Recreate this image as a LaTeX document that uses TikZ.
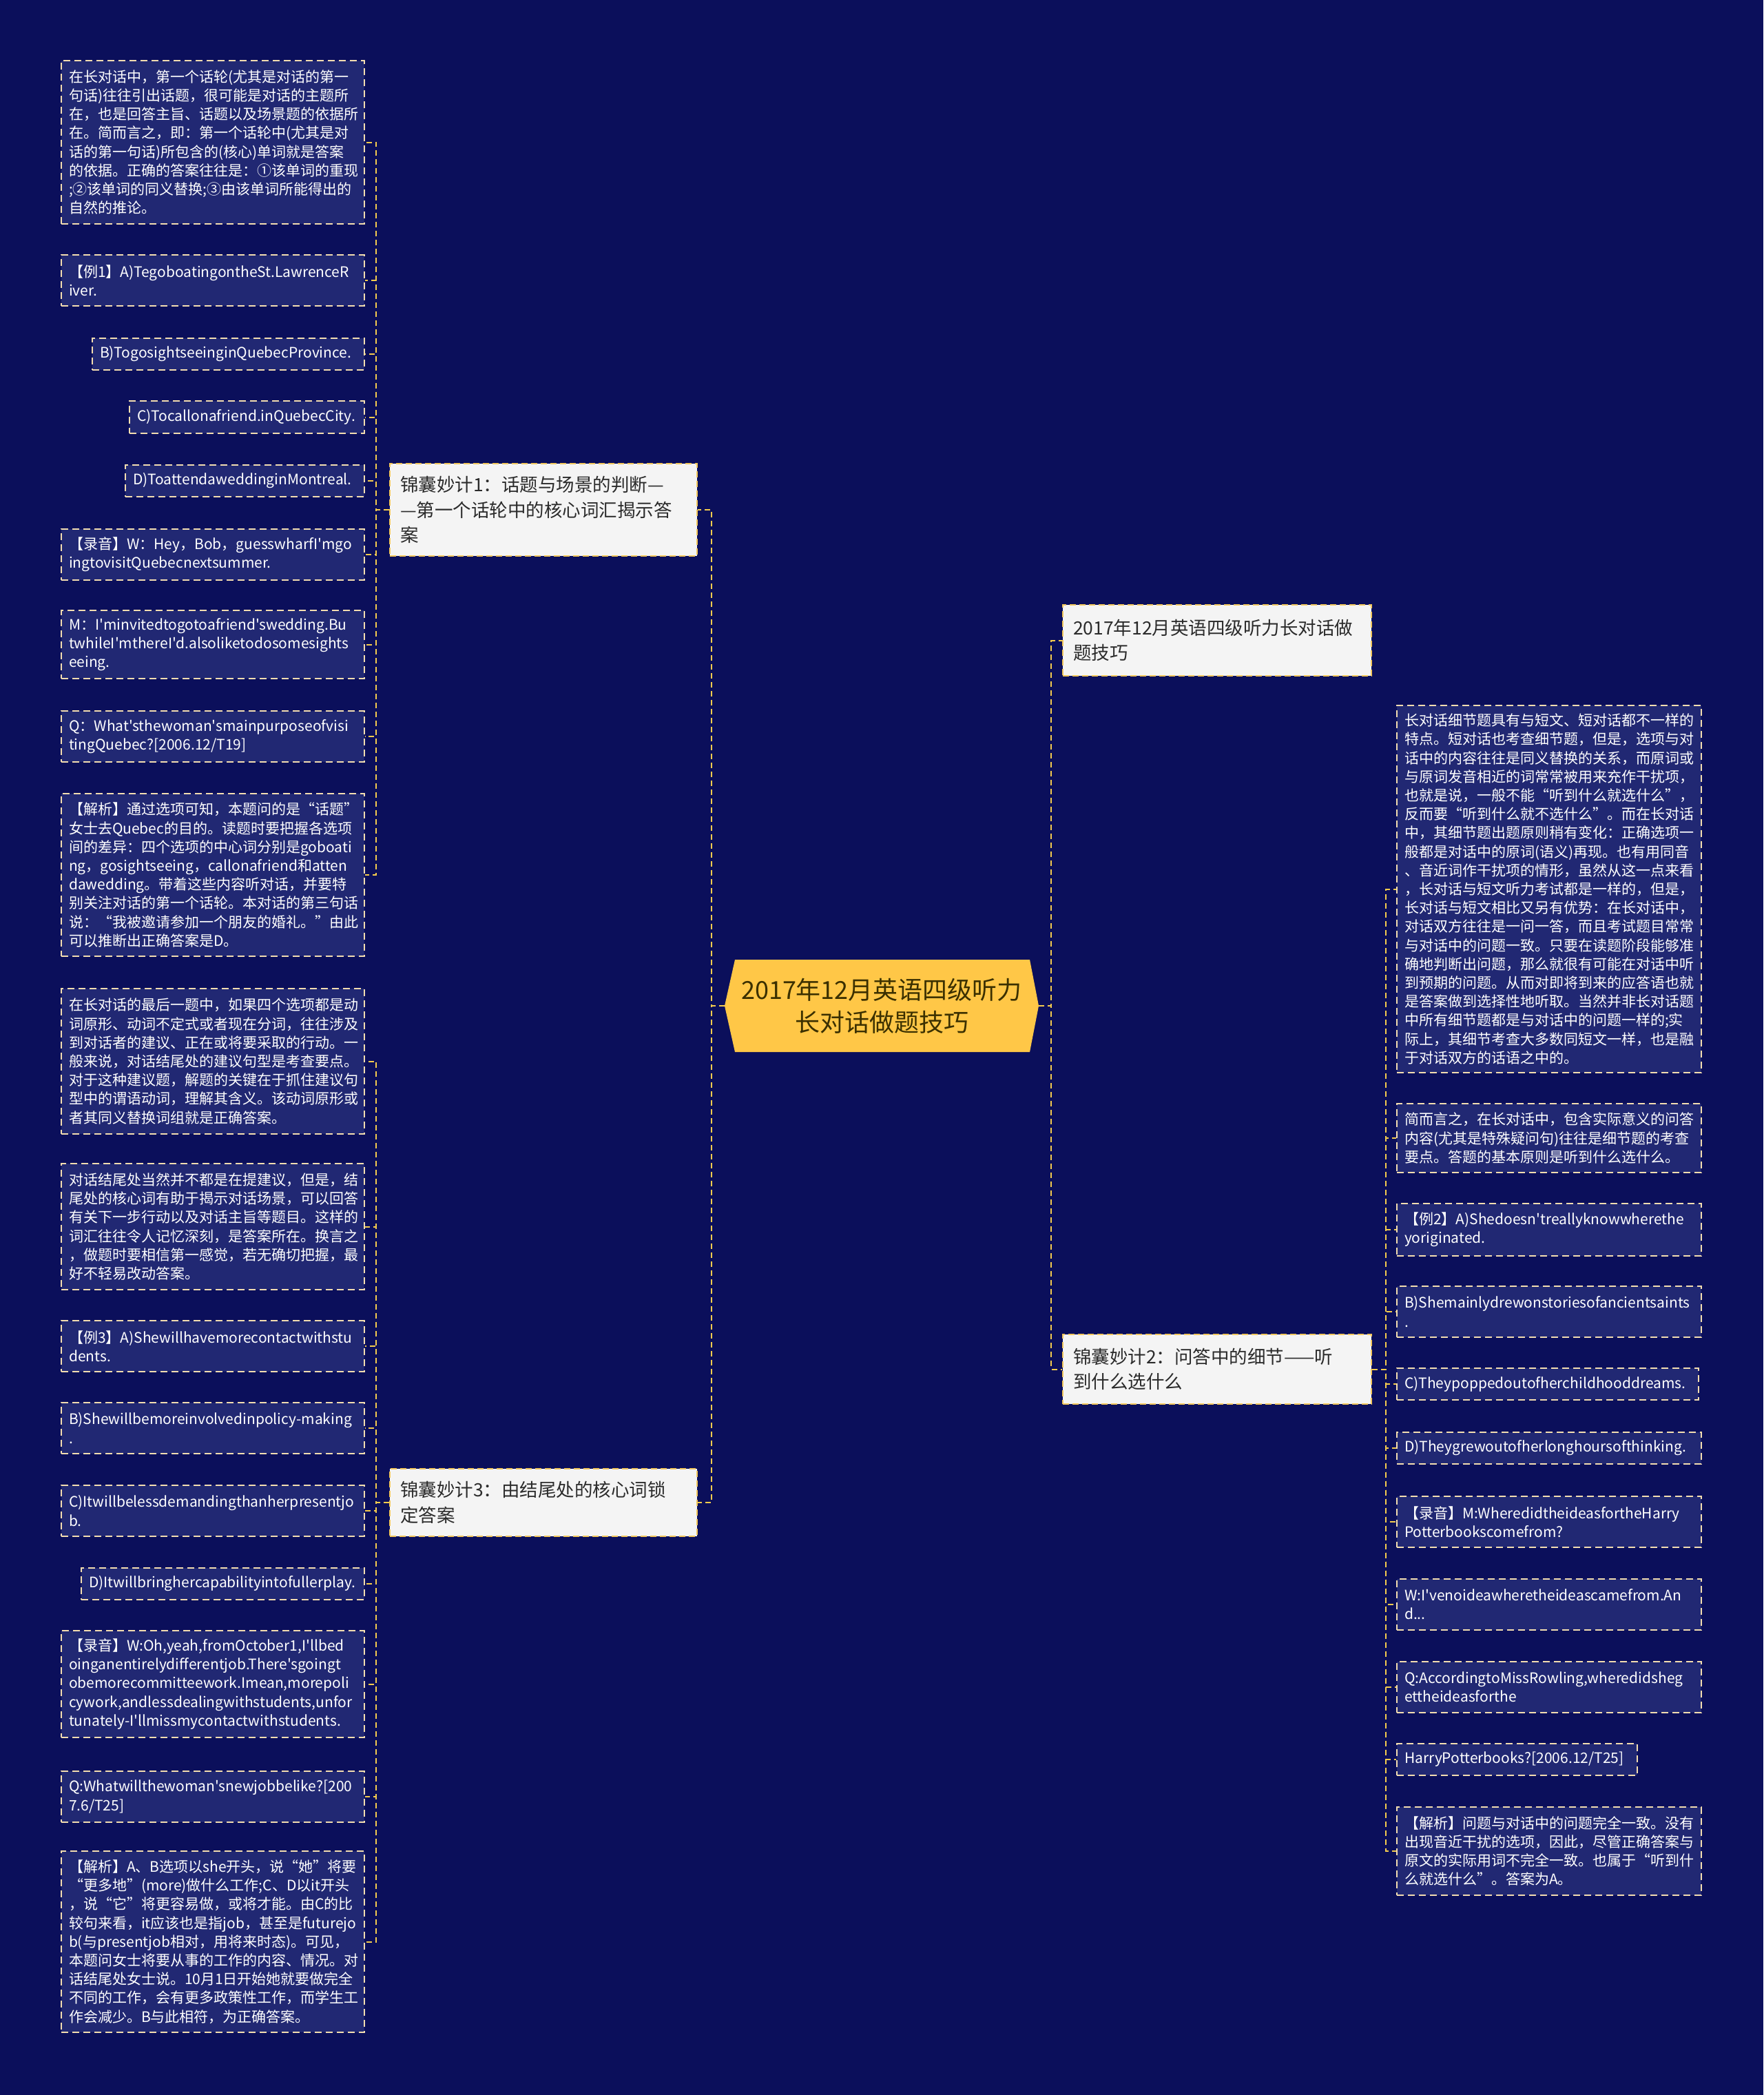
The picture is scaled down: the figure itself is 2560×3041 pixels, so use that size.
\documentclass[tikz,border=0pt]{standalone}
\usepackage{fontspec}
\newfontfamily\cjk{Noto Sans CJK SC}
\definecolor{bgc}{HTML}{0B0F5B}
\definecolor{leaffill}{HTML}{212873}
\definecolor{leafborder}{HTML}{F3DDB0}
\definecolor{midfill}{HTML}{F4F4F4}
\definecolor{midborder}{HTML}{F2C75C}
\definecolor{midtext}{HTML}{2B2B2B}
\definecolor{rootfill}{HTML}{FFC747}
\definecolor{roottext}{HTML}{3B3000}
\definecolor{connc}{HTML}{F5CC4E}
\hyphenpenalty=10000
\exhyphenpenalty=10000
\newcommand{\leafat}[6]{%
  \pgfmathsetmacro{\LFw}{#4-#2}\pgfmathsetmacro{\LFh}{#5-#3}\pgfmathsetmacro{\LFt}{#4-#2-22}%
  \pgfmathsetmacro{\LFx}{(#2+#4)/2}\pgfmathsetmacro{\LFy}{(#3+#5)/2}%
  \node[leaf, minimum width=\LFw pt, minimum height=\LFh pt, text width=\LFt pt] (#1) at (\LFx,\LFy) {#6};}
\newcommand{\midat}[6]{%
  \pgfmathsetmacro{\LFw}{#4-#2}\pgfmathsetmacro{\LFh}{#5-#3}\pgfmathsetmacro{\LFt}{#4-#2-30}%
  \pgfmathsetmacro{\LFx}{(#2+#4)/2}\pgfmathsetmacro{\LFy}{(#3+#5)/2}%
  \node[midbox, minimum width=\LFw pt, minimum height=\LFh pt, text width=\LFt pt] (#1) at (\LFx,\LFy) {#6};}
\begin{document}
\begin{tikzpicture}[x=1pt,y=-1pt,
  leaf/.style={draw=leafborder, fill=leaffill, line width=1.8pt, dash pattern=on 10pt off 6pt,
    text=white, font=\cjk\fontsize{21}{27.2}\selectfont, align=left, inner xsep=11pt, inner ysep=0pt},
  midbox/.style={draw=midborder, fill=midfill, line width=2pt, dash pattern=on 9pt off 5pt,
    text=midtext, font=\cjk\fontsize{26.5}{36.5}\selectfont, align=left, inner xsep=15pt, inner ysep=0pt},
  rootbox/.style={text=roottext, font=\cjk\fontsize{36}{47}\selectfont, align=center, inner sep=0pt},
  conn/.style={draw=connc, line width=2pt, dash pattern=on 8pt off 5pt}]
\useasboundingbox (0,0) rectangle (2560,3041);
\fill[bgc] (0,0) rectangle (2560,3041);

% root
\fill[rootfill] (1052,1460) -- (1067,1393) -- (1495,1393) -- (1508,1460) -- (1495,1527) -- (1067,1527) -- cycle;
\node[rootbox, minimum width=456pt, minimum height=134pt] (root) at (1280,1460) {2017年12月英语四级听力\\长对话做题技巧};

% level 1
\midat{k1}{566}{673}{1012}{807}{锦囊妙计1：话题与场景的判断—\\—第一个话轮中的核心词汇揭示答\\案}
\midat{t2017}{1543}{878}{1991}{981}{2017年12月英语四级听力长对话做\\题技巧}
\midat{k2}{1543}{1937}{1991}{2038}{锦囊妙计2：问答中的细节——听\\到什么选什么}
\midat{k3}{566}{2132}{1012}{2230}{锦囊妙计3：由结尾处的核心词锁\\定答案}

% left group 1
\leafat{a1}{89}{88}{529}{325}{在长对话中，第一个话轮(尤其是对话的第一\\句话)往往引出话题，很可能是对话的主题所\\在，也是回答主旨、话题以及场景题的依据所\\在。简而言之，即：第一个话轮中(尤其是对\\话的第一句话)所包含的(核心)单词就是答案\\的依据。正确的答案往往是：①该单词的重现\\;②该单词的同义替换;③由该单词所能得出的\\自然的推论。}
\leafat{a2}{89}{370}{529}{444}{【例1】A)TegoboatingontheSt.LawrenceR\\iver.}
\leafat{a3}{134}{491}{529}{537}{B)TogosightseeinginQuebecProvince.}
\leafat{a4}{188}{582}{529}{629}{C)Tocallonafriend.inQuebecCity.}
\leafat{a5}{182}{675}{529}{721}{D)ToattendaweddinginMontreal.}
\leafat{a6}{89}{768}{529}{842}{【录音】W：Hey，Bob，guesswharfI'mgo\\ingtovisitQuebecnextsummer.}
\leafat{a7}{89}{886}{529}{985}{M：I'minvitedtogotoafriend'swedding.Bu\\twhileI'mthereI'd.alsoliketodosomesights\\eeing.}
\leafat{a8}{89}{1032}{529}{1106}{Q：What'sthewoman'smainpurposeofvisi\\tingQuebec?[2006.12/T19]}
\leafat{a9}{89}{1152}{529}{1388}{【解析】通过选项可知，本题问的是“话题”\\女士去Quebec的目的。读题时要把握各选项\\间的差异：四个选项的中心词分别是goboati\\ng，gosightseeing，callonafriend和atten\\dawedding。带着这些内容听对话，并要特\\别关注对话的第一个话轮。本对话的第三句话\\说：“我被邀请参加一个朋友的婚礼。”由此\\可以推断出正确答案是D。}

% left group 3
\leafat{c1}{89}{1435}{529}{1646}{在长对话的最后一题中，如果四个选项都是动\\词原形、动词不定式或者现在分词，往往涉及\\到对话者的建议、正在或将要采取的行动。一\\般来说，对话结尾处的建议句型是考查要点。\\对于这种建议题，解题的关键在于抓住建议句\\型中的谓语动词，理解其含义。该动词原形或\\者其同义替换词组就是正确答案。}
\leafat{c2}{89}{1689}{529}{1872}{对话结尾处当然并不都是在提建议，但是，结\\尾处的核心词有助于揭示对话场景，可以回答\\有关下一步行动以及对话主旨等题目。这样的\\词汇往往令人记忆深刻，是答案所在。换言之\\，做题时要相信第一感觉，若无确切把握，最\\好不轻易改动答案。}
\leafat{c3}{89}{1917}{529}{1991}{【例3】A)Shewillhavemorecontactwithstu\\dents.}
\leafat{c4}{89}{2036}{529}{2110}{B)Shewillbemoreinvolvedinpolicy-making\\.}
\leafat{c5}{89}{2156}{529}{2230}{C)Itwillbelessdemandingthanherpresentjo\\b.}
\leafat{c6}{118}{2276}{529}{2322}{D)Itwillbringhercapabilityintofullerplay.}
\leafat{c7}{89}{2367}{529}{2522}{【录音】W:Oh,yeah,fromOctober1,I'llbed\\oinganentirelydifferentjob.There'sgoingt\\obemorecommitteework.Imean,morepoli\\cywork,andlessdealingwithstudents,unfor\\tunately-I'llmissmycontactwithstudents.}
\leafat{c8}{89}{2571}{529}{2645}{Q:Whatwillthewoman'snewjobbelike?[200\\7.6/T25]}
\leafat{c9}{89}{2687}{529}{2950}{【解析】A、B选项以she开头，说“她”将要\\“更多地”(more)做什么工作;C、D以it开头\\，说“它”将更容易做，或将才能。由C的比\\较句来看，it应该也是指job，甚至是futurejo\\b(与presentjob相对，用将来时态)。可见，\\本题问女士将要从事的工作的内容、情况。对\\话结尾处女士说。10月1日开始她就要做完全\\不同的工作，会有更多政策性工作，而学生工\\作会减少。B与此相符，为正确答案。}

% right group
\leafat{b1}{2028}{1024}{2470}{1557}{长对话细节题具有与短文、短对话都不一样的\\特点。短对话也考查细节题，但是，选项与对\\话中的内容往往是同义替换的关系，而原词或\\与原词发音相近的词常常被用来充作干扰项，\\也就是说，一般不能“听到什么就选什么”，\\反而要“听到什么就不选什么”。而在长对话\\中，其细节题出题原则稍有变化：正确选项一\\般都是对话中的原词(语义)再现。也有用同音\\、音近词作干扰项的情形，虽然从这一点来看\\，长对话与短文听力考试都是一样的，但是，\\长对话与短文相比又另有优势：在长对话中，\\对话双方往往是一问一答，而且考试题目常常\\与对话中的问题一致。只要在读题阶段能够准\\确地判断出问题，那么就很有可能在对话中听\\到预期的问题。从而对即将到来的应答语也就\\是答案做到选择性地听取。当然并非长对话题\\中所有细节题都是与对话中的问题一样的;实\\际上，其细节考查大多数同短文一样，也是融\\于对话双方的话语之中的。}
\leafat{b2}{2028}{1602}{2470}{1702}{简而言之，在长对话中，包含实际意义的问答\\内容(尤其是特殊疑问句)往往是细节题的考查\\要点。答题的基本原则是听到什么选什么。}
\leafat{b3}{2028}{1747}{2470}{1823}{【例2】A)Shedoesn'treallyknowwherethe\\yoriginated.}
\leafat{b4}{2028}{1867}{2470}{1941}{B)Shemainlydrewonstoriesofancientsaints\\.}
\leafat{b5}{2028}{1986}{2466}{2032}{C)Theypoppedoutofherchildhooddreams.}
\leafat{b6}{2028}{2079}{2470}{2125}{D)Theygrewoutofherlonghoursofthinking.}
\leafat{b7}{2028}{2172}{2470}{2246}{【录音】M:WheredidtheideasfortheHarry\\Potterbookscomefrom?}
\leafat{b8}{2028}{2292}{2470}{2366}{W:I'venoideawheretheideascamefrom.An\\d...}
\leafat{b9}{2028}{2412}{2470}{2486}{Q:AccordingtoMissRowling,wheredidsheg\\ettheideasforthe}
\leafat{b10}{2028}{2531}{2377}{2577}{HarryPotterbooks?[2006.12/T25]}
\leafat{b11}{2028}{2623}{2470}{2751}{【解析】问题与对话中的问题完全一致。没有\\出现音近干扰的选项，因此，尽管正确答案与\\原文的实际用词不完全一致。也属于“听到什\\么就选什么”。答案为A。}

% connectors: root
\foreach \n in {k1,k3} \draw[conn] (root.west) -- ++(-19,0) |- (\n.east);
\foreach \n in {t2017,k2} \draw[conn] (root.east) -- ++(18,0) |- (\n.west);
% group 1
\foreach \n in {a1,a2,a3,a4,a5,a6,a7,a8,a9} \draw[conn] (k1.west) -- ++(-19,0) |- (\n.east);
% group 3
\foreach \n in {c1,c2,c3,c4,c5,c6,c7,c8,c9} \draw[conn] (k3.west) -- ++(-19,0) |- (\n.east);
% group 2
\foreach \n in {b1,b2,b3,b4,b5,b6,b7,b8,b9,b10,b11} \draw[conn] (k2.east) -- ++(20,0) |- (\n.west);
\end{tikzpicture}
\end{document}
